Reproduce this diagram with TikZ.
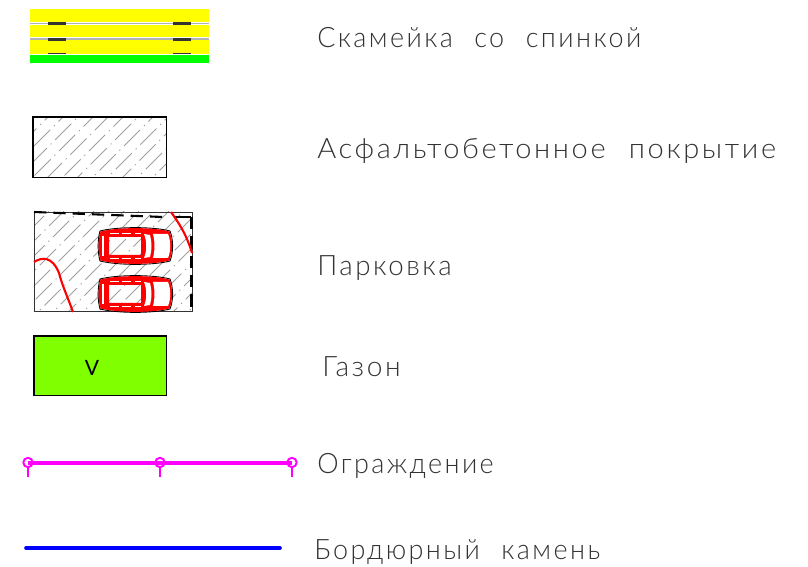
\documentclass[tikz,border=0pt]{standalone}
\usepackage{fontspec}
\setmainfont[LetterSpace=9,WordSpace=2.2]{Lato Light}
\newfontfamily\markfont{Lato}
\definecolor{benchyellow}{RGB}{255,255,0}
\definecolor{benchgreen}{RGB}{0,255,0}
\definecolor{lawngreen}{RGB}{128,255,0}
\definecolor{fencepink}{RGB}{255,0,255}
\definecolor{curbblue}{RGB}{0,0,255}
\definecolor{carred}{RGB}{255,0,0}
\tikzset{
	legend/.style = {anchor=base west, inner sep=0pt, transform shape, font=\fontsize{16}{18}\selectfont, text=black!80},
	hatch/.style = {gray!75, line width=0.6pt, dash pattern=on 13pt off 3pt on 0.7pt off 3pt},
	car/.pic = {
		\draw [black, line width=0.5pt] (2, 3) .. controls (20, -1.5) and (55, -1.5) .. (72, 3)
		.. controls (75.5, 12) and (75.5, 24) .. (72, 33)
		.. controls (55, 37.5) and (20, 37.5) .. (2, 33)
		.. controls (-0.5, 24) and (-0.5, 12) .. cycle;
		\fill [carred, even odd rule] (2.5, 3.5) .. controls (20, -1) and (55, -1) .. (71.5, 3.5)
		.. controls (75, 12) and (75, 24) .. (71.5, 32.5)
		.. controls (55, 37) and (20, 37) .. (2.5, 32.5)
		.. controls (0, 24) and (0, 12) .. cycle
		(11, 9) -- (43, 9) -- (43, 27) -- (11, 27) -- cycle;
		\fill [white] (46, 6) .. controls (49, 13) and (49, 23) .. (46, 30) -- (52, 29)
		.. controls (54, 22) and (54, 14) .. (52, 7) -- cycle;
		\fill [white] (55, 6) -- (70, 6) .. controls (73, 13) and (73, 23) .. (70, 30) -- (55, 30)
		.. controls (57, 23) and (57, 13) .. cycle;
		\draw [white, line width=0.5pt, dash pattern=on 5pt off 2pt] (12, 5.5) -- (43, 5.5);
		\draw [white, line width=0.5pt, dash pattern=on 5pt off 2pt] (12, 30.5) -- (43, 30.5);
		\draw [white, line width=0.6pt] (5, 8) -- (5, 28);
	}
}

\begin{document}
\begin{tikzpicture}[x=0.02cm, y=-0.02cm]
	\useasboundingbox (0, 0) rectangle (808, 567);
	% bench
	\fill [benchyellow] (30, 9) rectangle (209, 54);
	\fill [benchgreen] (30, 55) rectangle (209, 63);
	\foreach \y in {23.5, 39}
	{
		\fill [white] (30, \y - 1.5) rectangle (209, \y + 1.5);
		\draw [gray!60, line width=0.6pt] (30, \y) -- (209, \y);
	}
	\foreach \x in {48, 173}
	{
		\fill [black!80] (\x, 22) rectangle ++(18, 3);
		\fill [black!80] (\x, 38) rectangle ++(18, 3);
		\fill [black!80] (\x, 53) rectangle ++(18, 1.5);
	}
	% asphalt
	\begin{scope}
		\clip (33, 117) rectangle (166.5, 177.5);
		\foreach [evaluate=\i as \ph using {mod(\i*\i*7, 20)}] \i in {0,...,14}
		{
			\draw [hatch, dash phase=\ph pt] (-35 + 15 * \i, 185) -- ++(75, -75);
		}
	\end{scope}
	\draw [black, line width=0.7pt] (33, 117) rectangle (166.5, 177.5);
	% parking
	\begin{scope}
		\clip (34, 212) rectangle (192, 311);
		\foreach [evaluate=\i as \ph using {mod(\i*\i*7, 20)}] \i in {0,...,20}
		{
			\draw [hatch, dash phase=\ph pt] (-90 + 15 * \i, 320) -- ++(125, -125);
		}
	\end{scope}
	\draw [black!80, line width=0.45pt] (34, 212) rectangle (192, 311);
	\draw [black, line width=1.2pt, dash pattern=on 7pt off 4pt] (34, 212) -- (163, 217);
	\draw [black, line width=1.2pt] (175, 217) -- (191, 217);
	\draw [black, line width=1.2pt, dash pattern=on 7pt off 4pt] (191.5, 217) -- (191.5, 311);
	\pic at (98, 228) {car};
	\pic at (98, 276) {car};
	\draw [carred, line width=1.2pt] (171, 212) .. controls (178, 222) and (186, 233) .. (192, 253);
	\draw [carred, line width=1.2pt] (34, 262) .. controls (42, 257) and (52, 256) .. (59, 273)
	.. controls (62, 285) and (68, 298) .. (73, 312);
	% lawn
	\draw [black, fill=lawngreen, line width=0.6pt] (34, 336) rectangle (166.5, 395.5);
	\node [inner sep=0pt, font=\markfont\fontsize{12}{12}\selectfont] (lawnmark) at (92, 368) {V};
	% fence
	\draw [fencepink, line width=1.9pt] (28, 463) -- (292, 463);
	\foreach \x in {28, 160, 292}
	{
		\draw [fencepink, line width=1.1pt] (\x, 462.5) circle (4.7);
		\draw [fencepink, line width=1.1pt] (\x, 467) -- ++(0, 10);
	}
	% curb
	\draw [curbblue, line width=2.1pt, line cap=round] (26, 548) -- (280, 548);
	% labels
	\node [legend, xscale=0.96] (bench) at (317, 48) {Скамейка со спинкой};
	\node [legend, xscale=1.035] (asphalt) at (317, 158.5) {Асфальтобетонное покрытие};
	\node [legend, xscale=0.985] (parking) at (317, 276) {Парковка};
	\node [legend, xscale=1] (lawn) at (322, 377) {Газон};
	\node [legend, xscale=0.96] (fence) at (317, 473) {Ограждение};
	\node [legend, xscale=0.96] (curb) at (314, 559) {Бордюрный камень};
\end{tikzpicture}
\end{document}
